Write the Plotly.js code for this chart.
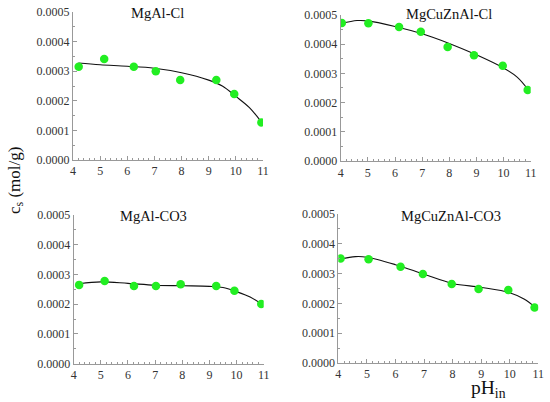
<!DOCTYPE html>
<html>
<head>
<meta charset="utf-8">
<script src="https://cdn.plot.ly/plotly-3.0.1.min.js"></script>
<style>html,body{margin:0;padding:0;background:#fff;}#chart{width:550px;height:402px;}</style>
</head>
<body>
<div id="chart"></div>
<script>
// Panel names
const panelTitles = ["MgAl-Cl", "MgCuZnAl-Cl", "MgAl-CO3", "MgCuZnAl-CO3"];

// Measured points (pH_in, c_s mol/g)
const mgAlCl_pH = [4.21, 5.15, 6.24, 7.05, 7.95, 9.28, 9.94, 10.94];
const mgAlCl_cs = [0.000315, 0.000341, 0.000315, 0.000300, 0.000270, 0.000270, 0.000223, 0.000127];
const mgCuZnAlCl_pH = [4.04, 5.02, 6.15, 6.95, 7.94, 8.91, 9.97, 10.89];
const mgCuZnAlCl_cs = [0.000472, 0.000471, 0.000458, 0.000442, 0.000390, 0.000362, 0.000326, 0.000243];
const mgAlCO3_pH = [4.20, 5.14, 6.22, 7.03, 7.94, 9.25, 9.92, 10.91];
const mgAlCO3_cs = [0.000265, 0.000278, 0.000261, 0.000261, 0.000267, 0.000261, 0.000245, 0.000201];
const mgCuZnAlCO3_pH = [4.08, 5.06, 6.18, 6.96, 7.97, 8.91, 9.95, 10.87];
const mgCuZnAlCO3_cs = [0.000351, 0.000348, 0.000323, 0.000299, 0.000265, 0.000248, 0.000245, 0.000186];

// Fitted curves
const fitAlCl_pH = [4.2, 5, 6, 7, 8, 9, 9.5, 10, 10.5, 10.9];
const fitAlCl_cs = [0.000328, 0.000322, 0.000317, 0.000310, 0.000295, 0.000270, 0.000250, 0.000215, 0.000177, 0.000133];
const fitCuCl_pH = [4.04, 4.6, 5, 6, 7, 8, 9, 10, 10.5, 10.89];
const fitCuCl_cs = [0.000470, 0.000480, 0.000479, 0.000460, 0.000435, 0.000402, 0.000363, 0.000318, 0.000287, 0.000246];
const fitAlCO3_pH = [4.2, 5, 6, 7, 8, 9, 9.5, 10, 10.5, 10.91];
const fitAlCO3_cs = [0.000269, 0.000275, 0.000270, 0.000264, 0.000262, 0.000260, 0.000256, 0.000242, 0.000224, 0.000201];
const fitCuCO3_pH = [4.08, 4.6, 5, 6, 7, 8, 9, 10, 10.5, 10.87];
const fitCuCO3_cs = [0.000348, 0.000357, 0.000355, 0.000330, 0.000298, 0.000267, 0.000254, 0.000236, 0.000215, 0.000189];

const xTickVals = [4, 5, 6, 7, 8, 9, 10, 11];
const yTickVals = [0, 0.0001, 0.0002, 0.0003, 0.0004, 0.0005];

const pts = [[mgAlCl_pH, mgAlCl_cs], [mgCuZnAlCl_pH, mgCuZnAlCl_cs], [mgAlCO3_pH, mgAlCO3_cs], [mgCuZnAlCO3_pH, mgCuZnAlCO3_cs]];
const fits = [[fitAlCl_pH, fitAlCl_cs], [fitCuCl_pH, fitCuCl_cs], [fitAlCO3_pH, fitAlCO3_cs], [fitCuCO3_pH, fitCuCO3_cs]];

const traces = [];
for (let i = 0; i < 4; i++) {
  const xa = i === 0 ? 'x' : 'x' + (i + 1);
  const ya = i === 0 ? 'y' : 'y' + (i + 1);
  traces.push({x: fits[i][0], y: fits[i][1], xaxis: xa, yaxis: ya, mode: 'lines', type: 'scatter',
    line: {color: '#111', width: 1.1, shape: 'spline'}, hoverinfo: 'skip', showlegend: false});
  traces.push({x: pts[i][0], y: pts[i][1], xaxis: xa, yaxis: ya, mode: 'markers', type: 'scatter',
    marker: {color: '#22ee22', size: 8.5}, showlegend: false});
}

const FAM = 'Liberation Serif';
function tf() { return {family: FAM, size: 12, color: '#333'}; }
function xax(domain, anchor) {
  return {domain: domain, anchor: anchor, range: [4, 11], tickvals: xTickVals, ticks: 'inside', ticklen: 4,
    tickcolor: '#999', showline: true, linecolor: '#999', linewidth: 1, showgrid: false, zeroline: false,
    tickfont: tf(), minor: {dtick: 0.2, ticks: 'inside', ticklen: 2, tickcolor: '#999', showgrid: false}};
}
function yax(domain, anchor) {
  return {domain: domain, anchor: anchor, range: [0, 0.0005], tickvals: yTickVals, tickformat: '.4f',
    ticks: 'inside', ticklen: 4, tickcolor: '#999', showline: true, linecolor: '#999', linewidth: 1,
    showgrid: false, zeroline: false, tickfont: tf(),
    minor: {dtick: 0.00005, ticks: 'inside', ticklen: 2, tickcolor: '#999', showgrid: false}};
}

const titlePos = [[0.2864, 0.968], [0.8164, 0.9652], [0.2782, 0.4638], [0.82, 0.4638]];
const annotations = panelTitles.map((t, i) => ({text: t, xref: 'paper', yref: 'paper', x: titlePos[i][0], y: titlePos[i][1],
  xanchor: 'center', yanchor: 'middle', showarrow: false, font: {family: FAM, size: 14.5, color: '#111'}}));
annotations.push({text: 'c<sub>s</sub> (mol/g)', xref: 'paper', yref: 'paper', x: 0.029, y: 0.552, textangle: -90,
  xanchor: 'center', yanchor: 'middle', showarrow: false, font: {family: FAM, size: 17, color: '#111'}});
annotations.push({text: 'pH<sub>in</sub>', xref: 'paper', yref: 'paper', x: 0.888, y: -0.001, borderpad: 0,
  xanchor: 'center', yanchor: 'bottom', showarrow: false, font: {family: FAM, size: 19.5, color: '#111'}});

const layout = {
  width: 550, height: 402, margin: {l: 0, r: 0, t: 0, b: 0}, paper_bgcolor: '#fff', plot_bgcolor: '#fff',
  showlegend: false, font: {family: FAM, size: 12, color: '#333'},
  xaxis: xax([0.1327, 0.4782], 'y'), yaxis: yax([0.602, 0.970], 'x'),
  xaxis2: xax([0.6195, 0.9649], 'y2'), yaxis2: yax([0.5988, 0.9634], 'x2'),
  xaxis3: xax([0.134, 0.4795], 'y3'), yaxis3: yax([0.0953, 0.4652], 'x3'),
  xaxis4: xax([0.6151, 0.9787], 'y4'), yaxis4: yax([0.097, 0.4677], 'x4'),
  annotations: annotations
};
Plotly.newPlot('chart', traces, layout, {staticPlot: true, displayModeBar: false});
</script>
</body>
</html>
